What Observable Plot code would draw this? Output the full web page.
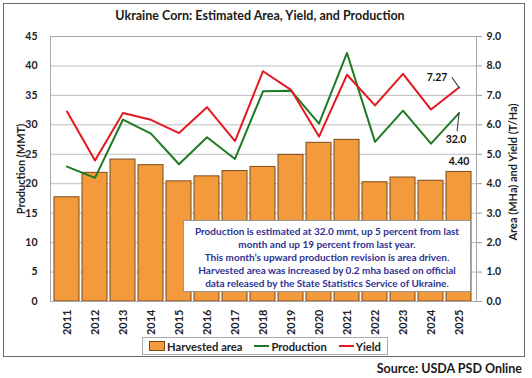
<!DOCTYPE html>
<html>
<head>
<meta charset="utf-8">
<script src="https://cdn.jsdelivr.net/npm/d3@7"></script>
<script src="https://cdn.jsdelivr.net/npm/@observablehq/plot@0.6"></script>
<style>
  html, body { margin:0; padding:0; background:#fff; }
  body { width:532px; height:378px; position:relative; overflow:hidden; font-family: Lato, "Open Sans", sans-serif; font-weight:bold; color:#222; }
  #chart { position:absolute; left:0; top:0; }
  .abs { position:absolute; white-space:nowrap; }
  #frame { position:absolute; left:3px; top:3px; width:522px; height:354px; border:1.5px solid #666; box-sizing:border-box; }
  #title { left:0; width:520px; top:8px; text-align:center; font-size:12.5px; color:#1a1a1a; }
  #ylab { left:20px; top:169px; transform: translate(-50%,-50%) rotate(-90deg); font-size:11px; }
  #y2lab { left:512px; top:172px; transform: translate(-50%,-50%) rotate(-90deg); font-size:11px; }
  #note { left:183px; top:220px; width:288px; height:72px; box-sizing:border-box; background:#fff; border:1px solid #999; color:#2e3192; font-size:10px; line-height:13px; text-align:center; padding-top:4px; white-space:nowrap; }
  #legend { left:142px; top:337px; width:246px; height:18px; box-sizing:border-box; border:1px solid #aaa; background:#fff; font-size:11.2px; display:flex; align-items:center; justify-content:center; gap:12px; }
  .item { display:flex; align-items:center; }
  .sw { display:inline-block; width:14px; height:8px; background:#F39A3C; border:1px solid #7a4a1a; margin-right:2px; }
  .ln { display:inline-block; width:15px; height:2px; margin-right:2px; }
  #source { right:10px; top:361px; font-size:12.5px; color:#1a1a1a; }
</style>
</head>
<body>
<div id="chart"></div>
<script>
const years = ["2011","2012","2013","2014","2015","2016","2017","2018","2019","2020","2021","2022","2023","2024","2025"];
const harvestedArea = [3.54,4.37,4.82,4.63,4.08,4.25,4.43,4.57,4.98,5.39,5.49,4.05,4.21,4.10,4.40];
const production = [22.9,21.0,30.9,28.5,23.3,27.9,24.2,35.7,35.8,30.2,42.2,27.1,32.4,26.8,32.0];
const yieldTHa = [6.45,4.79,6.40,6.17,5.72,6.60,5.45,7.82,7.19,5.60,7.70,6.66,7.73,6.52,7.27];
const leftTicks = [0,5,10,15,20,25,30,35,40,45];
const rightRatio = 45 / 9; // right axis 0–9 maps onto left axis 0–45

const table = years.map((year, i) => ({year, area: harvestedArea[i], production: production[i], yield: yieldTHa[i]}));
const last = table[table.length - 1];

const chart = Plot.plot({
  width: 532,
  height: 378,
  marginLeft: 50,
  marginRight: 56,
  marginTop: 36,
  marginBottom: 77,
  style: {fontFamily: "Lato, sans-serif", fontWeight: "bold", fontSize: "10.5px", color: "#222", background: "transparent"},
  x: {type: "band", domain: years, paddingInner: 0.1, paddingOuter: 0.05, label: null},
  y: {domain: [0, 45], label: null},
  marks: [
    Plot.gridY({ticks: leftTicks, stroke: "#bdbdbd", strokeOpacity: 1}),
    Plot.barY(table, {x: "year", y: d => d.area * rightRatio, fill: "#F39A3C", stroke: "#7a4a1a", strokeWidth: 1}),
    Plot.frame({stroke: "#a8a8a8"}),
    Plot.line(table, {x: "year", y: "production", stroke: "#1d7a23", strokeWidth: 2}),
    Plot.line(table, {x: "year", y: d => d.yield * rightRatio, stroke: "#e3191f", strokeWidth: 2}),
    Plot.axisY({ticks: leftTicks, tickSize: 0, tickPadding: 13, label: null}),
    Plot.axisY({anchor: "right", ticks: leftTicks, tickFormat: d => (d / rightRatio).toFixed(1), tickSize: 5, tickPadding: 5, stroke: "#999", label: null}),
    Plot.axisX({tickRotate: -90, tickSize: 0, tickPadding: 8, fontSize: 11, label: null}),
    Plot.vector([last], {x: "year", y: d => d.yield * rightRatio, length: 12, rotate: -35, anchor: "start", r: 0, stroke: "#333", strokeWidth: 1}),
    Plot.vector([last], {x: "year", y: "production", length: 18, rotate: 186, anchor: "start", r: 0, stroke: "#333", strokeWidth: 1}),
    Plot.text([last], {x: "year", y: d => d.yield * rightRatio, text: d => d.yield.toFixed(2), dx: -22, dy: -10, fill: "#111", fontSize: 10.5, fontWeight: "bold"}),
    Plot.text([last], {x: "year", y: "production", text: d => d.production.toFixed(1), dx: -3, dy: 27, fill: "#111", fontSize: 10.5, fontWeight: "bold"}),
    Plot.text([last], {x: "year", y: d => d.area * rightRatio, text: d => d.area.toFixed(2), dx: 0, dy: -10, fill: "#111", fontSize: 10.5, fontWeight: "bold"})
  ]
});
document.getElementById("chart").appendChild(chart);
</script>
<div id="frame"></div>
<div class="abs" id="title">Ukraine Corn: Estimated Area, Yield, and Production</div>
<div class="abs" id="ylab">Production (MMT)</div>
<div class="abs" id="y2lab">Area (MHa) and Yield (T/Ha)</div>
<div class="abs" id="note">Production is estimated at 32.0 mmt, up 5 percent from last<br>month and up 19 percent from last year.<br>This month’s upward production revision is area driven.<br>Harvested area was increased by 0.2 mha based on official<br>data released by the State Statistics Service of Ukraine.</div>
<div class="abs" id="legend">
  <span class="item"><span class="sw"></span>Harvested area</span>
  <span class="item"><span class="ln" style="background:#1d7a23"></span>Production</span>
  <span class="item"><span class="ln" style="background:#e3191f"></span>Yield</span>
</div>
<div class="abs" id="source">Source: USDA PSD Online</div>
</body>
</html>
